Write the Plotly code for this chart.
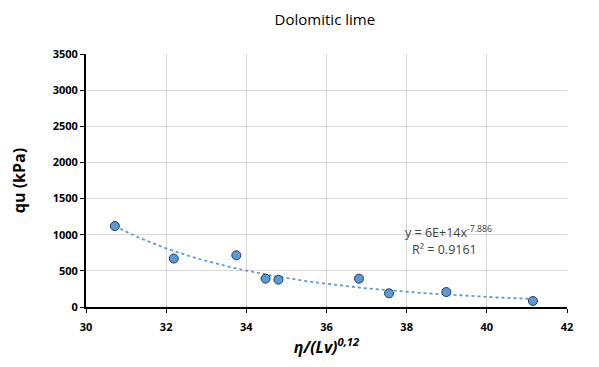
import numpy as np
import plotly.graph_objects as go

x_vals = [30.72, 32.19, 33.75, 34.48, 34.80, 36.81, 37.56, 38.99, 41.15]
qu_vals = [1120, 670, 715, 392, 378, 392, 189, 207, 83]
coef_a = 6e14
coef_b = -7.886
x_ticks = [30, 32, 34, 36, 38, 40, 42]
y_ticks = [0, 500, 1000, 1500, 2000, 2500, 3000, 3500]

xt = np.linspace(min(x_vals), max(x_vals), 100)
yt = coef_a * xt ** coef_b

fig = go.Figure()
fig.add_trace(go.Scatter(x=xt, y=yt, mode="lines",
                         line=dict(color="#5B9BD5", width=1.8, dash="dot"),
                         hoverinfo="skip", showlegend=False))
fig.add_trace(go.Scatter(x=x_vals, y=qu_vals, mode="markers",
                         marker=dict(color="#5B9BD5", size=9,
                                     line=dict(color="#203864", width=1)),
                         showlegend=False))

tickfont = dict(size=11, family="Open Sans", color="#000", weight="bold")
fig.update_layout(
    width=599, height=367,
    margin=dict(l=78, r=40, t=46, b=68),
    paper_bgcolor="white", plot_bgcolor="white",
    font=dict(family="Open Sans, Liberation Sans, Arial", color="#000000"),
    title=dict(text="Dolomitic lime", x=0.529, xanchor="center", y=0.967, yanchor="middle",
               font=dict(size=15, color="#000000")),
    xaxis=dict(range=[30, 42], tickvals=x_ticks, showgrid=True, gridcolor="#D9D9D9",
               showline=True, linecolor="black", linewidth=2, zeroline=False,
               ticks="outside", ticklen=4, tickcolor="black", tickwidth=1,
               tickfont=tickfont, automargin=False, ticklabelstandoff=5,
               title=dict(text="<b><i>η/(Lv)<sup>0,12</sup></i></b>", standoff=4,
                          font=dict(size=16, color="#000"))),
    yaxis=dict(range=[0, 3500], tickvals=y_ticks, showgrid=True, gridcolor="#D9D9D9",
               showline=True, linecolor="black", linewidth=2, zeroline=False,
               ticks="outside", ticklen=4, tickcolor="black", tickwidth=1,
               tickfont=tickfont, automargin=False,
               title=dict(text="<b>qu (kPa)</b>", standoff=24,
                          font=dict(size=16, color="#000"))),
)

fig.add_annotation(x=39.04, y=1037, xref="x", yref="y", showarrow=False,
                   text="y = 6E+14x<sup>-7.886</sup>",
                   font=dict(size=12.5, color="#404040", family="Open Sans"))
fig.add_annotation(x=38.95, y=790, xref="x", yref="y", showarrow=False,
                   text="R² = 0.9161",
                   font=dict(size=12.5, color="#404040", family="Open Sans"))

fig.write_html("out.html")
